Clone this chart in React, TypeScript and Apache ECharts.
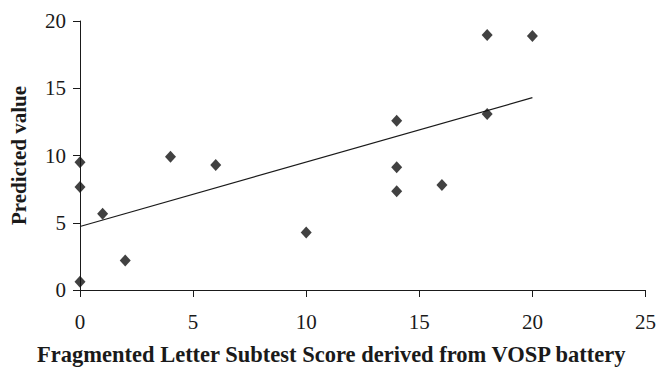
import React, { useEffect, useRef } from "react";
import * as echarts from "echarts";

const scoreX = [0, 0, 0, 1, 2, 4, 6, 10, 14, 14, 14, 16, 18, 18, 20];
const predictedY = [9.5, 7.65, 0.61, 5.67, 2.2, 9.9, 9.29, 4.28, 12.59, 9.12, 7.34, 7.8, 18.95, 13.08, 18.88];
const trendX = [0, 20];
const trendY = [4.72, 14.3];
const xTicks = [0, 5, 10, 15, 20, 25];
const yTicks = [0, 5, 10, 15, 20];

const FONT = "'Liberation Serif', 'Times New Roman', serif";

export default function App() {
  const ref = useRef<HTMLDivElement>(null);
  useEffect(() => {
    if (!ref.current) return;
    const chart = echarts.init(ref.current, undefined, { renderer: "svg" });
    const axisCommon = {
      type: "value" as const,
      interval: 5,
      splitLine: { show: false },
      axisLine: { show: true, lineStyle: { color: "#1a1a1a", width: 1 } },
      axisTick: { show: true, length: 7, lineStyle: { color: "#1a1a1a", width: 1 } },
    };
    chart.setOption({
      animation: false,
      backgroundColor: "#ffffff",
      grid: { left: 79, right: 12, top: 21, bottom: 78 },
      xAxis: {
        ...axisCommon,
        min: xTicks[0],
        max: xTicks[xTicks.length - 1],
        name: "Fragmented Letter Subtest Score derived from VOSP battery",
        nameLocation: "middle",
        nameGap: 53,
        nameTextStyle: {
          fontFamily: FONT,
          fontWeight: "bold",
          fontSize: 22.5,
          color: "#1a1a1a",
          padding: [0, 63, 0, 0],
        },
        axisLabel: { fontFamily: FONT, fontSize: 21, color: "#1a1a1a", margin: 21 },
      },
      yAxis: {
        ...axisCommon,
        min: yTicks[0],
        max: yTicks[yTicks.length - 1],
        name: "Predicted value",
        nameLocation: "middle",
        nameGap: 51,
        nameTextStyle: { fontFamily: FONT, fontWeight: "bold", fontSize: 21, color: "#1a1a1a" },
        axisLabel: { fontFamily: FONT, fontSize: 21, color: "#1a1a1a", margin: 14 },
      },
      series: [
        {
          type: "line",
          data: trendX.map((x, i) => [x, trendY[i]]),
          showSymbol: false,
          symbol: "none",
          lineStyle: { color: "#1a1a1a", width: 1.2 },
          silent: true,
          z: 2,
        },
        {
          type: "scatter",
          data: scoreX.map((x, i) => [x, predictedY[i]]),
          symbol: "diamond",
          symbolSize: [11, 12],
          itemStyle: { color: "#111111" },
          z: 3,
        },
      ],
    });
    return () => chart.dispose();
  }, []);
  return <div ref={ref} style={{ width: 659, height: 371, position: "absolute", left: 0, top: 0 }} />;
}
